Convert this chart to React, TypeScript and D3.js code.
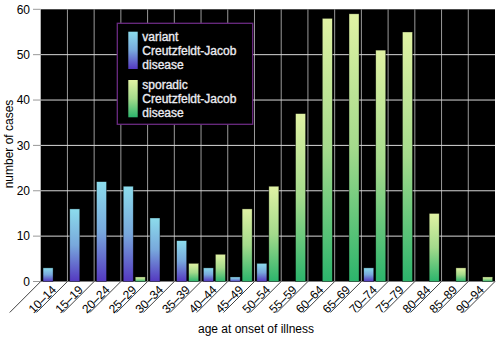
import React from "react";
import * as d3 from "d3";

const categories = ["10–14","15–19","20–24","25–29","30–34","35–39","40–44","45–49","50–54","55–59","60–64","65–69","70–74","75–79","80–84","85–89","90–94"];
const variantValues = [3,16,22,21,14,9,3,1,4,0,0,0,3,0,0,0,0];
const sporadicValues = [0,0,0,1,0,4,6,16,21,37,58,59,51,55,15,3,1];
const yTicks = [0,10,20,30,40,50,60];
const seriesKeys = ["variant","sporadic"];

const W = 500, H = 337;
const left = 40.7, right = 495, top = 9.3, bottom = 281.5;

export default function App() {
  const x = d3.scaleBand<string>().domain(categories).range([left, right]).padding(0);
  const bw = x.bandwidth();
  const inner = d3.scaleBand<string>().domain(seriesKeys).range([0, bw]).paddingInner(0.167).paddingOuter(0.196);
  const y = d3.scaleLinear().domain([0, 60]).range([bottom, top]);
  const boundaries = categories.map(c => x(c)!).concat([right]);
  const font = "'Liberation Sans', Arial, Helvetica, sans-serif";

  const legendItems = [
    { key: "variant", grad: "gradV", lines: ["variant", "Creutzfeldt-Jacob", "disease"], y0: 31.7 },
    { key: "sporadic", grad: "gradS", lines: ["sporadic", "Creutzfeldt-Jacob", "disease"], y0: 80 },
  ];

  return (
    <svg width={W} height={H} style={{ position: "absolute", left: 0, top: 0, background: "#fff" }} fontFamily={font}>
      <defs>
        <linearGradient id="gradV" x1="0" y1="0" x2="0" y2="1">
          <stop offset="0%" stopColor="#8cdcec" />
          <stop offset="50%" stopColor="#78a8dc" />
          <stop offset="100%" stopColor="#5438c0" />
        </linearGradient>
        <linearGradient id="gradS" x1="0" y1="0" x2="0" y2="1">
          <stop offset="0%" stopColor="#e0f2a4" />
          <stop offset="50%" stopColor="#a4da8c" />
          <stop offset="100%" stopColor="#2cb46c" />
        </linearGradient>
      </defs>
      <rect x={left} y={top} width={right - left} height={bottom - top} fill="#000" />
      {boundaries.slice(1, -1).map((b, i) => (
        <line key={"vg" + i} x1={b} x2={b} y1={top} y2={bottom} stroke="#9a9a9a" strokeWidth={1} />
      ))}
      {yTicks.slice(1, -1).map(t => (
        <line key={"hg" + t} x1={left} x2={right} y1={y(t)} y2={y(t)} stroke="#d8d8d8" strokeWidth={1} />
      ))}
      {categories.map((c, i) => (
        <g key={"b" + c}>
          {variantValues[i] > 0 && (
            <rect x={x(c)! + inner("variant")!} y={y(variantValues[i])} width={inner.bandwidth()} height={y(0) - y(variantValues[i])}
              fill="url(#gradV)" stroke="rgba(0,0,0,0.6)" strokeWidth={0.6} />
          )}
          {sporadicValues[i] > 0 && (
            <rect x={x(c)! + inner("sporadic")!} y={y(sporadicValues[i])} width={inner.bandwidth()} height={y(0) - y(sporadicValues[i])}
              fill="url(#gradS)" stroke="rgba(0,0,0,0.6)" strokeWidth={0.6} />
          )}
        </g>
      ))}
      {/* legend */}
      <rect x={117.3} y={23.3} width={135.4} height={101} fill="#000" stroke="#6a2a82" strokeWidth={1.3} />
      {legendItems.map(it => (
        <g key={it.key}>
          <rect x={128.3} y={it.y0} width={9.4} height={37.3} fill={`url(#${it.grad})`} />
          {it.lines.map((l, j) => (
            <text key={j} x={142.3} y={it.y0 + 9 + j * 14.2} fill="#ececf2" stroke="#ececf2" strokeWidth={0.35} fontSize={12}>{l}</text>
          ))}
        </g>
      ))}
      {/* y axis */}
      {yTicks.map(t => (
        <g key={"yt" + t}>
          <line x1={33} x2={left} y1={y(t)} y2={y(t)} stroke="#999" strokeWidth={1} />
          <text x={30} y={y(t)} dy="0.35em" textAnchor="end" fontSize={12} fill="#000">{t}</text>
        </g>
      ))}
      {/* x axis diagonals */}
      {boundaries.map((b, i) => (
        <line key={"d" + i} x1={b} y1={bottom} x2={b - 31} y2={bottom + 31} stroke="#111" strokeWidth={0.8} />
      ))}
      {categories.map(c => {
        const xc = x(c)! + bw / 2;
        return (
          <text key={"xl" + c} transform={`translate(${xc + 3},${bottom + 9}) rotate(-45)`} textAnchor="end" fontSize={12} fill="#000">{c}</text>
        );
      })}
      <text x={256} y={333} textAnchor="middle" fontSize={12} fill="#000">age at onset of illness</text>
      <text transform={`translate(13,144) rotate(-90)`} textAnchor="middle" fontSize={12} fill="#000">number of cases</text>
    </svg>
  );
}
